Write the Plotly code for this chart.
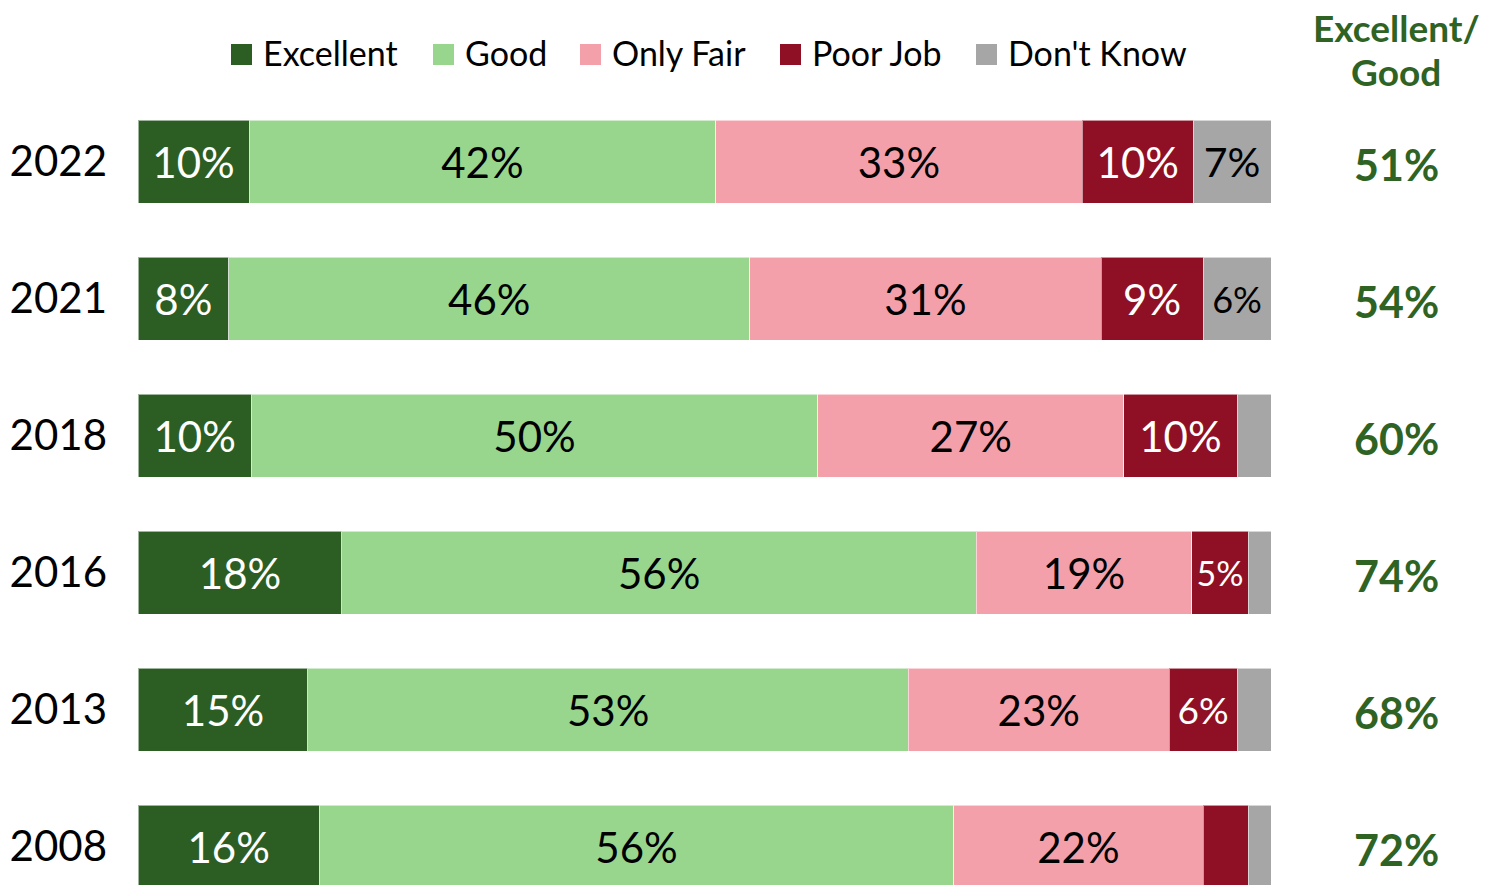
import plotly.graph_objects as go

# ---------------- data ----------------
years = ["2022", "2021", "2018", "2016", "2013", "2008"]
excellent = [10, 8, 10, 18, 15, 16]
good = [42, 46, 50, 56, 53, 56]
only_fair = [33, 31, 27, 19, 23, 22]
poor_job = [10, 9, 10, 5, 6, 4]
dont_know = [7, 6, 3, 2, 3, 2]
excellent_good = [51, 54, 60, 74, 68, 72]
series_names = ["Excellent", "Good", "Only Fair", "Poor Job", "Don't Know"]
header_lines = ["Excellent/", "Good"]

# ---------------- style ----------------
colors = ["#2C5E24", "#98D68E", "#F4A0AA", "#8F1024", "#A6A6A6"]
text_colors = ["white", "black", "black", "white", "black"]
label_sizes = [
    [42] * 6,
    [42] * 6,
    [42] * 6,
    [42, 42, 42, 34, 37, 42],
    [41, 36, 42, 42, 42, 42],
]
FONT = "Lato, Carlito, 'Open Sans', sans-serif"
GREEN_TXT = "#2E6324"

W, H = 1502, 885
L, R, T, B = 138, 231, 93, 0
PW, PH = W - L - R, H - T - B


def xp(px):
    return (px - L) / PW


def yp(py):
    return (H - B - py) / PH


ypos = list(range(len(years)))
slot = PH / 137.0  # category units visible in plot height

fig = go.Figure()
all_series = [excellent, good, only_fair, poor_job, dont_know]
for name, vals, col, tcol, sizes in zip(series_names, all_series, colors, text_colors, label_sizes):
    fig.add_trace(go.Bar(
        y=ypos, x=vals, orientation="h", name=name,
        marker=dict(color=col, line=dict(color="rgba(255,255,255,0.55)", width=1)),
        text=[f"{v}%" if v >= 5 else "" for v in vals],
        textposition="inside", insidetextanchor="middle", constraintext="none",
        textangle=0,
        textfont=dict(family=FONT, size=sizes, color=tcol),
        width=83 / 137, showlegend=False, hoverinfo="skip",
    ))

annotations = []
# right-hand Excellent/Good column
for y, v in zip(ypos, excellent_good):
    annotations.append(dict(
        x=xp(1396), xref="paper", y=y + 0.02, yref="y", text=f"<b>{v}%</b>",
        showarrow=False, xanchor="center", yanchor="middle",
        font=dict(family=FONT, size=43, color=GREEN_TXT)))
for line, cy in zip(header_lines, [27, 71]):
    annotations.append(dict(x=xp(1396), xref="paper", y=yp(cy), yref="paper",
                            text=f"<b>{line}</b>", showarrow=False,
                            xanchor="center", yanchor="middle",
                            font=dict(family=FONT, size=37, color=GREEN_TXT)))

# manual legend
legend_marker_x = [231, 433, 580, 780, 976]
shapes = []
for name, col, mx in zip(series_names, colors, legend_marker_x):
    shapes.append(dict(type="rect", xref="paper", yref="paper",
                       x0=xp(mx), x1=xp(mx + 21), y0=yp(65), y1=yp(44),
                       fillcolor=col, line=dict(width=0)))
    annotations.append(dict(x=xp(mx + 30), xref="paper", y=yp(53), yref="paper",
                            text=name, showarrow=False, xanchor="left", yanchor="middle",
                            font=dict(family=FONT, size=34, color="black")))

fig.update_layout(
    width=W, height=H,
    margin=dict(l=L, r=R, t=T, b=B, pad=0),
    barmode="stack", barnorm="percent",
    plot_bgcolor="white", paper_bgcolor="white",
    font=dict(family=FONT, color="black"),
    xaxis=dict(range=[0, 100], visible=False, fixedrange=True),
    yaxis=dict(range=[-0.5 + slot, -0.5], tickmode="array", tickvals=ypos, ticktext=years,
               showgrid=False, zeroline=False, showline=False, ticks="", fixedrange=True,
               ticklabelstandoff=30, tickfont=dict(family=FONT, size=42, color="black")),
    shapes=shapes, annotations=annotations, showlegend=False,
)

fig.write_html("out.html", config={"displayModeBar": False},
               post_script="document.body.style.margin='0';document.body.style.overflow='hidden';")
